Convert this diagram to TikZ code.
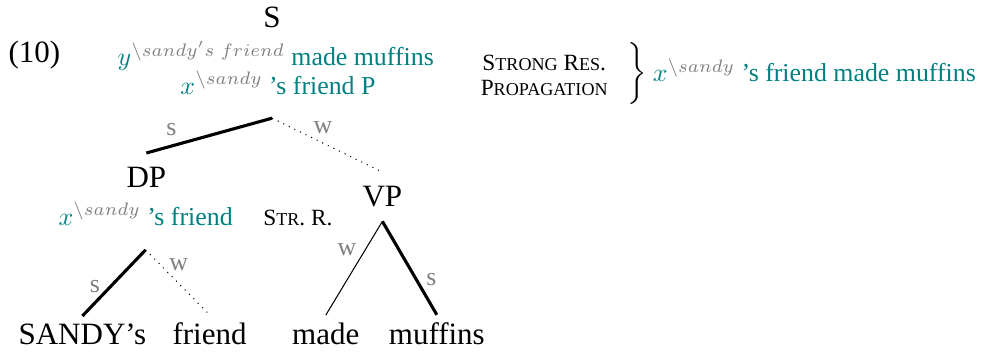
\documentclass[tikz,border=0pt]{standalone}
\usepackage{fontspec}
\setmainfont{Liberation Serif}
\usepackage{xcolor}
\usetikzlibrary{positioning}

% meaning with a subtracted part, e.g. x minus sandy
\newcommand{\semminus}[2]{$#1^{\color{gray}\backslash #2}$}
% poor man's small caps
\newcommand{\lilcaps}[1]{{\fontsize{7}{8}\selectfont #1}}

\begin{document}
\begin{tikzpicture}[
  cat/.style={font=\fontsize{12}{14}\selectfont,inner sep=3pt,outer sep=2.5pt},
  leaf/.style={font=\fontsize{12}{14}\selectfont,inner sep=3pt},
  sem/.style={font=\fontsize{10}{12}\selectfont,text=teal,inner sep=0pt},
  lab/.style={font=\fontsize{10}{12}\selectfont,text=gray},
  rulename/.style={font=\fontsize{9}{9.7}\selectfont,align=center},
  strongedge/.style={line width=1.2pt},
  weakedge/.style={thin,dotted},
  thinedge/.style={thin}
]
\useasboundingbox (0,0) rectangle (13.38,4.84);

\node[leaf,anchor=base west,inner sep=0pt] (ex) at (0.11,3.99) {(10)};

% root with its two readings
\node[cat,anchor=base] (s) at (3.70,4.46) {S};
\node[sem,anchor=base] (s-sem1) at (3.75,3.95) {\semminus{y}{sandy's\ friend} made muffins};
\node[sem,anchor=base] (s-sem2) at (3.78,3.56) {\semminus{x}{sandy} 's friend P};

% daughters
\node[cat,anchor=base] (dp) at (1.99,2.29) {DP};
\node[sem,anchor=base] (dp-sem) at (1.98,1.78) {\semminus{x}{sandy} 's friend};
\node[rulename,anchor=base] (str-r) at (4.05,1.77) {S\lilcaps{TR}. R.};
\node[cat,anchor=base] (vp) at (5.20,2.03) {VP};

% words
\node[leaf,anchor=base] (sandy) at (1.12,0.15) {SANDY's};
\node[leaf,anchor=base] (friend) at (2.85,0.15) {friend};
\node[leaf,anchor=base] (made) at (4.43,0.15) {made};
\node[leaf,anchor=base] (muffins) at (5.94,0.15) {muffins};

% branches, s = strong, w = weak
\draw[strongedge] ([yshift=-9pt]s.center |- s-sem2.south) -- node[lab,pos=.8,above] {s} (dp.north);
\draw[weakedge] ([yshift=-9pt]s.center |- s-sem2.south) -- node[lab,pos=.46,above] {w} (vp.north);
\draw[strongedge] ([yshift=-9.3pt]dp-sem.south) -- node[lab,pos=.56,left] {s} (sandy.north);
\draw[weakedge] ([yshift=-9.3pt]dp-sem.south) -- node[lab,pos=.23,right] {w} (friend.north);
\draw[thinedge] (vp.south) -- node[lab,pos=.3,left] {w} (made.north);
\draw[strongedge] (vp.south) -- node[lab,pos=.62,right] {s} (muffins.north);

% propagation step on the right
\node[rulename] (rule) at (7.40,3.82) {S\lilcaps{TRONG} R\lilcaps{ES}.\\P\lilcaps{ROPAGATION}};
\node (brace) at (8.64,3.82) {$\left.\vrule height 10.5pt depth 10.5pt width 0pt\right\}$};
\node[sem,anchor=base west] (result) at (8.87,3.73) {\semminus{x}{sandy} 's friend made muffins};
\end{tikzpicture}
\end{document}
